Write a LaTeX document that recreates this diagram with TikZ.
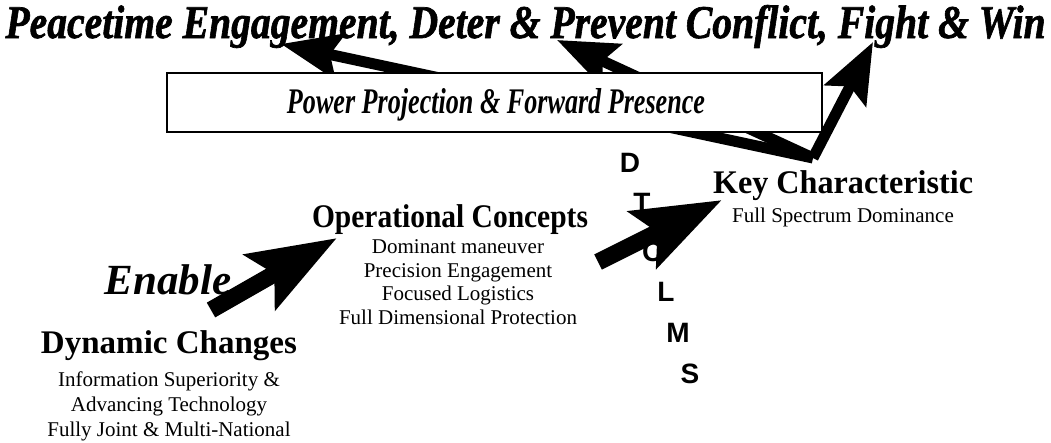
\documentclass[tikz,border=0pt]{standalone}
\usepackage{fontspec}
\setmainfont{Liberation Serif}
\newfontfamily\dsans{Liberation Sans}
\newfontfamily\titlefont{Liberation Serif}[BoldItalicFeatures={FakeBold=1.5}]
\usetikzlibrary{arrows.meta}
\newcommand{\fitw}[2]{\resizebox{#1}{\height}{#2}}
\begin{document}
\begin{tikzpicture}[x=1pt,y=1pt,
  headtext/.style={font=\fontsize{33}{33}\selectfont\bfseries, inner sep=0pt, anchor=base},
  subtext/.style={font=\fontsize{21}{24}\selectfont, inner sep=0pt, anchor=base},
  letter/.style={font=\dsans\bfseries\fontsize{28}{28}\selectfont, inner sep=0pt},
  bigarrow/.style={line width=17pt, -{Stealth[length=88pt,width=62pt,inset=16pt]}},
  thinarrow/.style={line width=11pt, -{Stealth[length=60pt,width=46pt,inset=10pt]}},
  framebox/.style={draw, line width=1.5pt, fill=white, inner sep=0pt}
]
\useasboundingbox (0,0) rectangle (1051,-442);

% title
\node[anchor=base, inner sep=0pt] (title) at (525.5,-38)
  {\resizebox{1040pt}{33pt}{\titlefont\bfseries\itshape Peacetime Engagement, Deter \& Prevent Conflict, Fight \& Win}};

% arrow end points
\coordinate (K) at (813,-158);
\coordinate (t1) at (281,-44);
\coordinate (t2) at (557,-40);
\coordinate (t3) at (873,-42);

\draw[thinarrow] (K) -- (t1);
\draw[thinarrow] (K) -- (t2);
\draw[thinarrow] (K) -- (t3);

% box
\node[framebox, minimum width=655pt, minimum height=59pt] (box) at (494.5,-102.5) {};
\node[anchor=base, inner sep=0pt] (boxtext) at (496,-113)
  {\resizebox{418pt}{25pt}{\bfseries\itshape Power Projection \& Forward Presence}};

% key characteristic
\node[headtext] (key) at (843,-193) {\fitw{260pt}{Key Characteristic}};
\node[subtext] (keysub) at (843,-222) {Full Spectrum Dominance};

% operational concepts
\node[headtext] (op) at (450,-227) {\fitw{276pt}{Operational Concepts}};
\node[subtext] (op1) at (458,-253) {Dominant maneuver};
\node[subtext] (op2) at (458,-277) {Precision Engagement};
\node[subtext] (op3) at (458,-300) {Focused Logistics};
\node[subtext] (op4) at (458,-324) {Full Dimensional Protection};

% enable and dynamic changes
\node[anchor=base, inner sep=0pt, font=\fontsize{43}{43}\selectfont\bfseries\itshape] (enable) at (168,-294) {Enable};
\node[headtext] (dyn) at (169,-353) {\fitw{256pt}{Dynamic Changes}};
\node[subtext] (dyn1) at (169,-386) {Information Superiority \&};
\node[subtext] (dyn2) at (169,-411) {Advancing Technology};
\node[subtext] (dyn3) at (169,-436) {Fully Joint \& Multi-National};

% DTOLMS
\node[letter] (lD) at (630,-163) {D};
\node[letter] (lT) at (642,-203) {T};
\node[letter] (lO) at (653,-252) {O};
\node[letter] (lL) at (666,-292) {L};
\node[letter] (lM) at (678,-333) {M};
\node[letter] (lS) at (690,-374) {S};

% big arrows
\coordinate (e0) at (211,-310);
\coordinate (e1) at (337,-238);
\draw[bigarrow] (e0) -- (e1);
\coordinate (k0) at (598,-262);
\coordinate (k1) at (722,-200);
\draw[bigarrow] (k0) -- (k1);
\end{tikzpicture}
\end{document}
